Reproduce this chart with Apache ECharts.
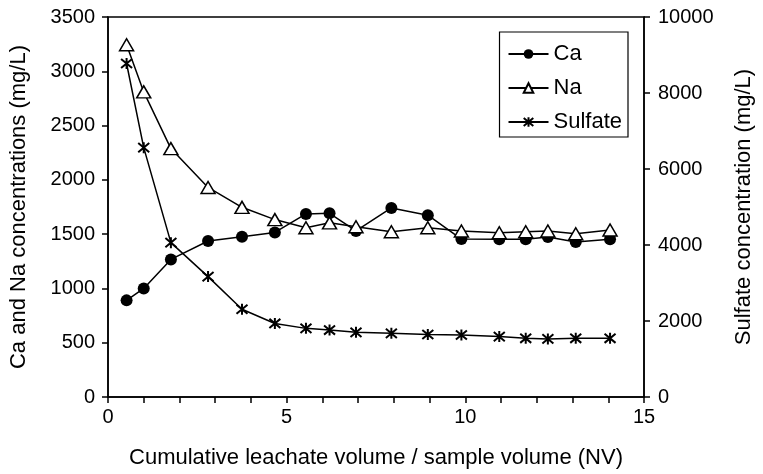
<!DOCTYPE html>
<html><head><meta charset="utf-8">
<script src="https://cdn.jsdelivr.net/npm/echarts@6/dist/echarts.min.js"></script>
<style>html,body{margin:0;padding:0;background:#fff}#c{width:763px;height:474px}</style>
</head><body><div id="c"></div>
<script>
var nv = [0.52, 1.0, 1.76, 2.8, 3.75, 4.67, 5.54, 6.2, 6.94, 7.93, 8.95, 9.89, 10.95, 11.69, 12.31, 13.09, 14.05];
var ca = [890, 1000, 1267, 1437, 1477, 1516, 1686, 1692, 1529, 1741, 1675, 1455, 1452, 1452, 1474, 1428, 1452];
var na = [3245, 2810, 2288, 1930, 1747, 1634, 1559, 1604, 1568, 1522, 1559, 1529, 1513, 1522, 1529, 1504, 1538];
var sulfate = [8776, 6562, 4062, 3168, 2309, 1935, 1806, 1762, 1701, 1675, 1645, 1632, 1589, 1545, 1528, 1545, 1545];
var xTicks = [0, 5, 10, 15];
var leftTicks = [0, 500, 1000, 1500, 2000, 2500, 3000, 3500];
var rightTicks = [0, 2000, 4000, 6000, 8000, 10000];

function pairs(ys){ return nv.map(function(x,i){return [x, ys[i]];}); }
var font = 'Liberation Sans, Arial, sans-serif';
var star = 'path://M0,0L10,10M0,10L10,0M5,-1L5,11';
var chart = echarts.init(document.getElementById('c'));
var axisLine = {show:true, lineStyle:{color:'#000', width:1.5}};
chart.setOption({
  animation:false,
  backgroundColor:'#fff',
  grid:{left:106, right:115, top:17, bottom:73, show:true, borderColor:'#000', borderWidth:1.5, backgroundColor:'transparent'},
  legend:{
    right:135, top:32, orient:'vertical', itemWidth:40, itemHeight:12, itemGap:12,
    borderColor:'#000', borderWidth:1.2, padding:[11,6,4,8],
    textStyle:{fontFamily:font, fontSize:22, color:'#000'},
    data:['Ca','Na','Sulfate']
  },
  xAxis:{
    type:'value', min:0, max:15, interval:5,
    name:'Cumulative leachate volume / sample volume (NV)', nameLocation:'middle', nameGap:50,
    nameTextStyle:{fontFamily:font, fontSize:22, color:'#000'},
    axisLine:axisLine, axisTick:{show:true, inside:false, length:6, lineStyle:{color:'#000', width:1.5}},
    minorTick:{show:true, splitNumber:5, length:6, lineStyle:{color:'#000', width:1.5}},
    splitLine:{show:false},
    axisLabel:{fontFamily:font, fontSize:20, color:'#000', margin:10,
      formatter:function(v){return xTicks.indexOf(v)>=0 ? String(v) : '';}}
  },
  yAxis:[{
    type:'value', min:0, max:3500, interval:500, position:'left',
    name:'Ca and Na concentrations (mg/L)', nameLocation:'middle', nameGap:78, nameRotate:90,
    nameTextStyle:{fontFamily:font, fontSize:22, color:'#000'},
    axisLine:axisLine, axisTick:{show:true, length:6, lineStyle:{color:'#000', width:1.5}},
    splitLine:{show:false},
    axisLabel:{fontFamily:font, fontSize:20, color:'#000', margin:13,
      formatter:function(v){return leftTicks.indexOf(v)>=0 ? String(v) : '';}}
  },{
    type:'value', min:0, max:10000, interval:2000, position:'right',
    name:'Sulfate concentration (mg/L)', nameLocation:'middle', nameGap:89, nameRotate:90,
    nameTextStyle:{fontFamily:font, fontSize:22, color:'#000'},
    axisLine:axisLine, axisTick:{show:true, length:6, lineStyle:{color:'#000', width:1.5}},
    splitLine:{show:false},
    axisLabel:{fontFamily:font, fontSize:20, color:'#000', margin:14,
      formatter:function(v){return rightTicks.indexOf(v)>=0 ? String(v) : '';}}
  }],
  series:[
    {name:'Ca', type:'line', yAxisIndex:0, data:pairs(ca), symbol:'circle', symbolSize:12,
     lineStyle:{color:'#000', width:1.5}, itemStyle:{color:'#000', borderColor:'#000', borderWidth:0}, z:3},
    {name:'Na', type:'line', yAxisIndex:0, data:pairs(na), symbol:'triangle', symbolSize:[14,12],
     lineStyle:{color:'#000', width:1.5}, itemStyle:{color:'#fff', borderColor:'#000', borderWidth:1.5}, z:4},
    {name:'Sulfate', type:'line', yAxisIndex:1, data:pairs(sulfate), symbol:star, symbolSize:11,
     lineStyle:{color:'#000', width:1.5}, itemStyle:{color:'#000', borderColor:'#000', borderWidth:2}, z:3}
  ]
});
</script></body></html>
